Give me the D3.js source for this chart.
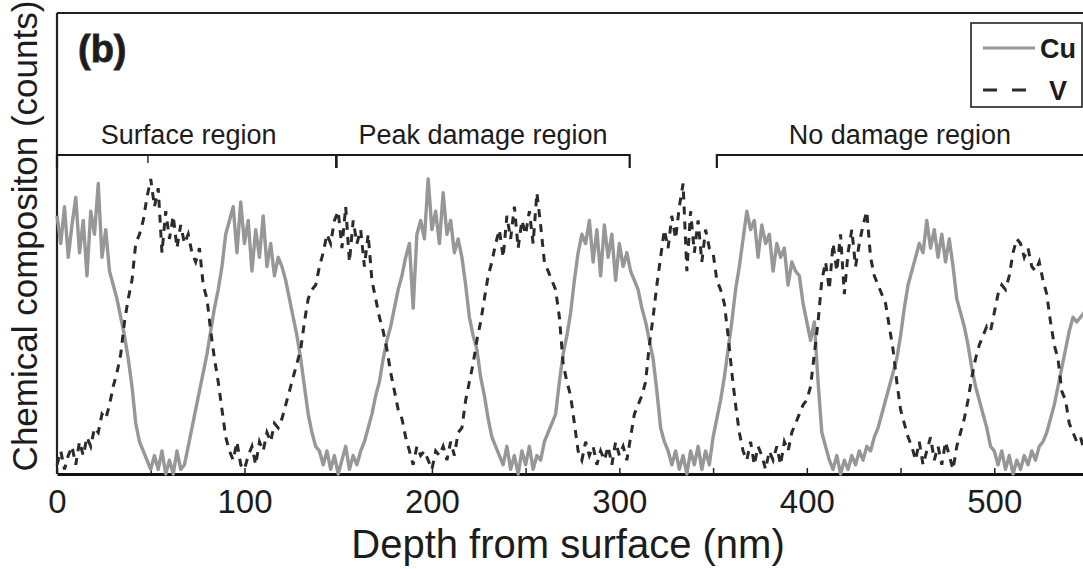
<!DOCTYPE html>
<html>

<head>
  <script src="https://d3js.org/d3.v7.min.js"></script>
  <style>
    body {
      margin: 0;
      background: #fff;
    }

    text {
      font-family: "Liberation Sans", Arial, sans-serif;
      fill: #1c1c1c;
    }

    .tick text {
      font-size: 33px;
    }

    .axis-label {
      font-size: 40px;
    }

    .region-label {
      font-size: 27px;
    }

    .legend text {
      font-size: 27px;
      font-weight: bold;
    }
  </style>
</head>

<body>
  <div id="chart"></div>

  <script>
    // depth (nm), sampled every 2 nm
    const depth = [
      0, 2, 4, 6, 8, 10, 12, 14, 16, 18, 20, 22, 24, 26, 28, 30, 32, 34, 36, 38, 40, 42, 44, 46, 48,
      50, 52, 54, 56, 58, 60, 62, 64, 66, 68, 70, 72, 74, 76, 78, 80, 82, 84, 86, 88, 90, 92, 94, 96, 98,
      100, 102, 104, 106, 108, 110, 112, 114, 116, 118, 120, 122, 124, 126, 128, 130, 132, 134, 136, 138, 140, 142, 144, 146, 148,
      150, 152, 154, 156, 158, 160, 162, 164, 166, 168, 170, 172, 174, 176, 178, 180, 182, 184, 186, 188, 190, 192, 194, 196, 198,
      200, 202, 204, 206, 208, 210, 212, 214, 216, 218, 220, 222, 224, 226, 228, 230, 232, 234, 236, 238, 240, 242, 244, 246, 248,
      250, 252, 254, 256, 258, 260, 262, 264, 266, 268, 270, 272, 274, 276, 278, 280, 282, 284, 286, 288, 290, 292, 294, 296, 298,
      300, 302, 304, 306, 308, 310, 312, 314, 316, 318, 320, 322, 324, 326, 328, 330, 332, 334, 336, 338, 340, 342, 344, 346, 348,
      350, 352, 354, 356, 358, 360, 362, 364, 366, 368, 370, 372, 374, 376, 378, 380, 382, 384, 386, 388, 390, 392, 394, 396, 398,
      400, 402, 404, 406, 408, 410, 412, 414, 416, 418, 420, 422, 424, 426, 428, 430, 432, 434, 436, 438, 440, 442, 444, 446, 448,
      450, 452, 454, 456, 458, 460, 462, 464, 466, 468, 470, 472, 474, 476, 478, 480, 482, 484, 486, 488, 490, 492, 494, 496, 498,
      500, 502, 504, 506, 508, 510, 512, 514, 516, 518, 520, 522, 524, 526, 528, 530, 532, 534, 536, 538, 540, 542, 544, 546, 548
    ];

    // Cu counts (arbitrary units)
    const cuCounts = [
      56, 50, 58, 47, 54, 60, 48, 55, 43, 57, 52, 63, 47, 53, 44, 41, 38, 34, 30, 25, 19, 11, 7, 5, 3,
      1, 4, 1, 5, 0, 3, 0, 5, 1, 2, 6, 10, 14, 18, 22, 26, 31, 36, 40, 45, 52, 55, 58, 48, 59,
      50, 55, 44, 53, 47, 56, 45, 50, 43, 47, 45, 42, 38, 34, 30, 25, 19, 13, 9, 6, 5, 2, 5, 1, 4,
      0, 3, 6, 1, 4, 2, 5, 7, 10, 13, 17, 20, 25, 29, 32, 36, 40, 43, 47, 50, 36, 52, 55, 51, 64,
      53, 57, 50, 61, 52, 55, 48, 51, 47, 41, 34, 30, 27, 21, 17, 12, 8, 6, 4, 2, 6, 1, 4, 0, 5,
      2, 6, 1, 4, 3, 7, 9, 11, 13, 20, 26, 30, 35, 42, 48, 52, 50, 55, 46, 53, 43, 54, 47, 52, 42,
      50, 45, 48, 44, 42, 40, 36, 33, 29, 25, 18, 10, 7, 5, 2, 5, 1, 4, 0, 5, 2, 6, 1, 5, 2,
      8, 12, 16, 21, 27, 33, 40, 45, 51, 57, 53, 55, 47, 54, 50, 52, 44, 50, 47, 49, 41, 46, 44, 43, 37,
      33, 29, 33, 20, 9, 6, 3, 1, 4, 0, 3, 1, 4, 2, 5, 3, 6, 5, 8, 10, 13, 16, 19, 22, 25,
      30, 36, 41, 44, 47, 50, 48, 55, 49, 53, 47, 52, 46, 51, 45, 38, 35, 32, 28, 23, 19, 16, 13, 10, 6,
      5, 2, 5, 1, 4, 0, 3, 1, 4, 2, 5, 3, 6, 7, 9, 12, 15, 19, 23, 27, 31, 34, 33, 34, 35
    ];

    // V counts (arbitrary units)
    const vCounts = [
      2, 5, 1, 4, 6, 2, 7, 4, 8, 6, 10, 9, 13, 12, 15, 19, 22, 26, 33, 38, 42, 50, 52, 55, 60,
      64, 58, 62, 48, 57, 51, 56, 49, 54, 50, 52, 48, 46, 49, 41, 38, 31, 25, 20, 14, 8, 5, 3, 7, 2,
      1, 4, 6, 2, 7, 5, 9, 7, 11, 10, 12, 15, 18, 21, 24, 27, 33, 38, 40, 41, 45, 48, 52, 50, 55,
      57, 49, 58, 46, 55, 50, 53, 45, 52, 42, 38, 34, 31, 27, 22, 18, 14, 12, 8, 5, 2, 6, 4, 5, 3,
      1, 5, 4, 6, 3, 7, 4, 9, 10, 16, 20, 24, 29, 33, 38, 43, 46, 50, 53, 47, 56, 51, 58, 49, 55,
      52, 57, 50, 61, 54, 46, 44, 42, 40, 34, 24, 20, 17, 11, 5, 3, 7, 4, 6, 2, 5, 3, 6, 2, 7,
      4, 6, 3, 8, 13, 15, 17, 20, 28, 34, 41, 47, 53, 49, 56, 51, 58, 63, 44, 57, 48, 55, 46, 53, 49,
      48, 42, 40, 37, 30, 22, 15, 9, 5, 3, 7, 2, 6, 4, 1, 5, 3, 6, 2, 7, 5, 9, 11, 13, 15,
      16, 19, 26, 33, 42, 46, 40, 50, 44, 52, 39, 48, 53, 45, 50, 54, 57, 47, 43, 41, 39, 37, 32, 27, 20,
      14, 11, 8, 6, 3, 7, 2, 5, 8, 3, 6, 2, 7, 4, 1, 6, 9, 12, 16, 21, 25, 28, 30, 32, 31,
      35, 39, 41, 40, 43, 48, 51, 50, 47, 49, 45, 44, 46, 42, 39, 33, 28, 25, 18, 16, 11, 9, 7, 8, 5
    ];

    const xTickValues = [0, 50, 100, 150, 200, 250, 300, 350, 400, 450, 500];
    const regionNames = ["Surface region", "Peak damage region", "No damage region"];
    const regionStart = [0, 149, 352];
    const regionEnd = [149, 305.5, 548];
    const regionMarks = [48.5];
    const seriesNames = ["Cu", "V"];

    const width = 1083, height = 569;
    const margin = { top: 13, right: -5, bottom: 95, left: 57 };

    const svg = d3.select("#chart")
      .append("svg")
      .attr("width", width)
      .attr("height", height);

    svg.append("rect")
      .attr("width", width)
      .attr("height", height)
      .attr("fill", "#fff");

    const x = d3.scaleLinear()
      .domain([0, 550])
      .range([margin.left, width - margin.right]);

    const y = d3.scaleLinear()
      .domain([0, 100])
      .range([height - margin.bottom, margin.top]);

    const bottomY = height - margin.bottom;

    // frame: top and left
    svg.append("line")
      .attr("x1", margin.left).attr("x2", width)
      .attr("y1", margin.top).attr("y2", margin.top)
      .attr("stroke", "#222").attr("stroke-width", 2.2);
    svg.append("line")
      .attr("x1", margin.left).attr("x2", margin.left)
      .attr("y1", margin.top).attr("y2", bottomY)
      .attr("stroke", "#222").attr("stroke-width", 2.2);

    // x axis
    const xAxis = svg.append("g")
      .attr("transform", `translate(0,${bottomY})`)
      .call(d3.axisBottom(x)
        .tickValues(xTickValues)
        .tickSizeInner(-6)
        .tickSizeOuter(0)
        .tickPadding(16)
        .tickFormat(d => d % 100 === 0 ? d : ""));
    xAxis.select(".domain").attr("stroke", "#111").attr("stroke-width", 3);
    xAxis.selectAll(".tick line").attr("stroke", "#222").attr("stroke-width", 1.5);
    xAxis.selectAll(".tick text").attr("fill", "#1c1c1c");

    // axis labels
    svg.append("text")
      .attr("class", "axis-label")
      .attr("text-anchor", "middle")
      .attr("x", 568)
      .attr("y", 558)
      .text("Depth from surface (nm)");

    svg.append("text")
      .attr("class", "axis-label")
      .attr("text-anchor", "middle")
      .attr("transform", "rotate(-90)")
      .attr("x", -236)
      .attr("y", 37)
      .style("font-size", "35px")
      .text("Chemical compositon (counts)");

    // region brackets
    const regionY = 155;
    const regions = svg.append("g");
    regionNames.forEach((name, i) => {
      const x0 = x(regionStart[i]), x1 = x(regionEnd[i]);
      regions.append("path")
        .attr("d", `M${x0},${regionY + 13}V${regionY}H${x1}V${regionY + 13}`)
        .attr("fill", "none")
        .attr("stroke", "#1a1a1a")
        .attr("stroke-width", 2.2);
      regions.append("text")
        .attr("class", "region-label")
        .attr("text-anchor", "middle")
        .attr("x", (Math.min(x1, width) + x0) / 2 - (i === 0 ? 8 : 0))
        .attr("y", regionY - 11)
        .text(name);
    });
    regionMarks.forEach(d => {
      regions.append("line")
        .attr("x1", x(d)).attr("x2", x(d))
        .attr("y1", regionY).attr("y2", regionY + 8)
        .attr("stroke", "#333").attr("stroke-width", 1.5);
    });

    // profiles
    const line = d3.line()
      .x((d, i) => x(depth[i]))
      .y(d => y(d));

    svg.append("path")
      .datum(cuCounts)
      .attr("fill", "none")
      .attr("stroke", "#979797")
      .attr("stroke-width", 3.4)
      .attr("stroke-linejoin", "round")
      .attr("d", line);

    svg.append("path")
      .datum(vCounts)
      .attr("fill", "none")
      .attr("stroke", "#2b2b2b")
      .attr("stroke-width", 3)
      .attr("stroke-dasharray", "8,7")
      .attr("d", line);

    // panel tag
    svg.append("text")
      .attr("x", 78)
      .attr("y", 62)
      .style("font-size", "38px")
      .style("font-weight", "bold")
      .attr("fill", "#6a6a6a")
      .attr("stroke", "#2a2a2a")
      .attr("stroke-width", 0.8)
      .text("(b)");

    // legend
    const legend = svg.append("g").attr("class", "legend");
    legend.append("rect")
      .attr("x", 971).attr("y", 23)
      .attr("width", 111).attr("height", 84)
      .attr("fill", "#fff")
      .attr("stroke", "#222").attr("stroke-width", 1.6);

    const legendItems = legend.selectAll("g.item")
      .data(seriesNames)
      .enter().append("g")
      .attr("class", "item")
      .attr("transform", (d, i) => `translate(983,${48 + i * 42})`);

    legendItems.append("line")
      .attr("x1", 0).attr("x2", (d, i) => i === 0 ? 52 : 44)
      .attr("stroke", (d, i) => i === 0 ? "#979797" : "#2b2b2b")
      .attr("stroke-width", 3)
      .attr("stroke-dasharray", (d, i) => i === 0 ? null : "14,15");

    legendItems.append("text")
      .attr("x", (d, i) => i === 0 ? 57 : 66)
      .attr("y", 10)
      .text(d => d);
  </script>
</body>

</html>
